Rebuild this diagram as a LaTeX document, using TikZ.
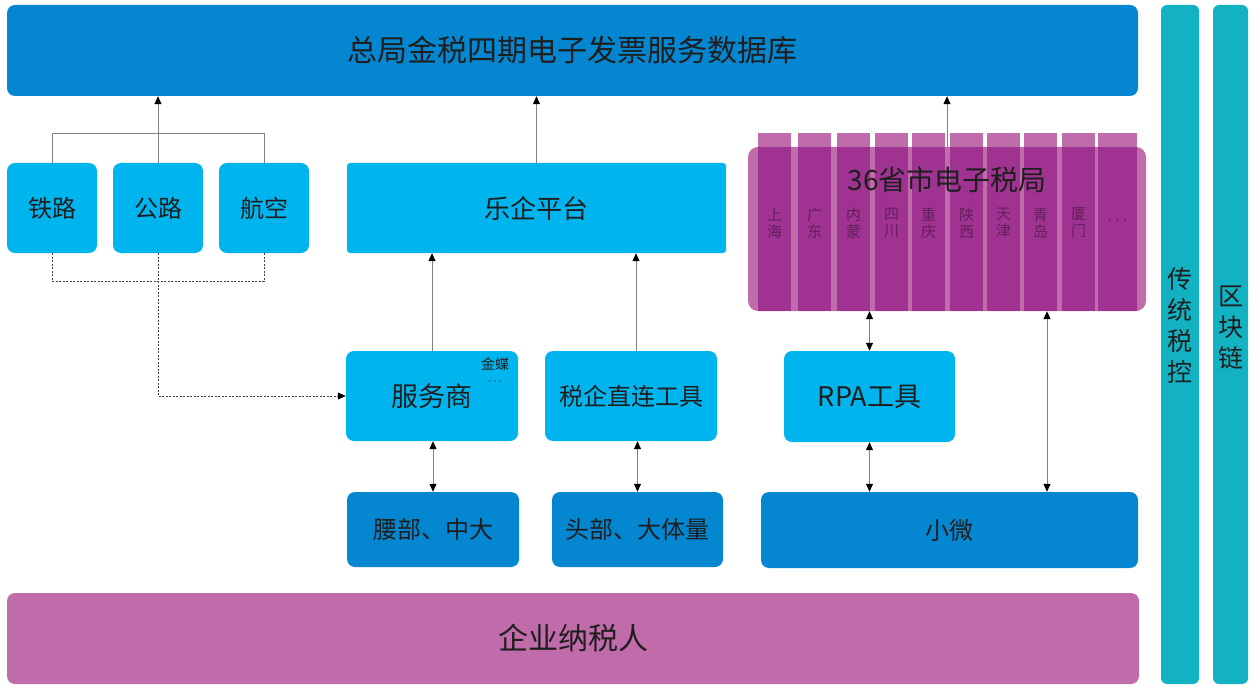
\documentclass[tikz,border=0pt]{standalone}
\usepackage{fontspec}
\setmainfont{Noto Sans CJK SC}
\usetikzlibrary{arrows.meta}
\definecolor{dbblue}{RGB}{4,135,208}
\definecolor{skyblue}{RGB}{0,181,238}
\definecolor{plum}{RGB}{193,108,170}
\definecolor{deepplum}{RGB}{160,51,146}
\definecolor{barteal}{RGB}{18,178,194}
\definecolor{linegray}{RGB}{130,130,130}
\definecolor{inkgray}{RGB}{30,30,30}
\definecolor{provtext}{RGB}{100,30,90}
\begin{document}
\begin{tikzpicture}[x=1pt,y=-1pt,
  box/.style={rectangle,rounded corners=8pt,inner sep=0pt,text=inkgray,
    font=\fontsize{24}{28}\selectfont},
  darkbox/.style={box,fill=dbblue},
  lightbox/.style={box,fill=skyblue},
  tealbar/.style={box,fill=barteal,rounded corners=6pt,minimum width=#1,minimum height=679pt},
  vtext/.style={align=center,text=inkgray,inner sep=0pt,font=\fontsize{25}{31}\selectfont},
  prov/.style={align=center,text=provtext,inner sep=0pt,font=\fontsize{15}{17}\selectfont},
  link/.style={draw=linegray,line width=1pt},
  arr/.style={link,-{Triangle[length=8pt,width=7pt,color=black]}},
  biarr/.style={link,{Triangle[length=8pt,width=7pt,color=black]}-{Triangle[length=8pt,width=7pt,color=black]}},
  dashline/.style={draw=inkgray!85,line width=0.8pt,dash pattern=on 2pt off 1.5pt}]
\useasboundingbox (0,0) rectangle (1260,687);
% Top and bottom bars
\node[darkbox,minimum width=1131pt,minimum height=91pt,font=\fontsize{30}{34}\selectfont]
  (zongju) at (572.5,50.5) {总局金税四期电子发票服务数据库};
\node[box,fill=plum,minimum width=1132pt,minimum height=91pt,font=\fontsize{30}{34}\selectfont]
  (nashui) at (573,638.5) {企业纳税人};
% Side bars
\node[tealbar=38pt] (chuantong) at (1180,344.5) {};
\node[vtext] (chuantonglabel) at (1180,325) {传\\统\\税\\控};
\node[tealbar=35pt] (qukuai) at (1230.5,344.5) {};
\node[vtext] (qukuailabel) at (1230.5,328) {区\\块\\链};
% Transport
\node[lightbox,minimum width=90pt,minimum height=90pt] (tielu) at (52,208) {铁路};
\node[lightbox,minimum width=90pt,minimum height=90pt] (gonglu) at (158,208) {公路};
\node[lightbox,minimum width=90pt,minimum height=90pt] (hangkong) at (264,208) {航空};
% Middle column
\node[lightbox,rounded corners=3pt,minimum width=379pt,minimum height=90pt,font=\fontsize{26}{30}\selectfont]
  (leqi) at (536.5,208) {乐企平台};
\node[lightbox,minimum width=172pt,minimum height=90pt,font=\fontsize{27}{30}\selectfont]
  (fuwu) at (432,396) {服务商};
\node[text=inkgray,inner sep=0pt,font=\fontsize{14}{16}\selectfont] (jindie) at (495,364) {金蝶};
\node[text=inkgray,inner sep=0pt,font=\fontsize{12}{14}\selectfont] (jindiemore) at (495,382) {$\cdots$};
\node[lightbox,minimum width=172pt,minimum height=90pt] (zhilian) at (631,396) {税企直连工具};
\node[darkbox,minimum width=172pt,minimum height=75pt] (yaobu) at (433,529.5) {腰部、中大};
\node[darkbox,minimum width=171pt,minimum height=75pt] (toubu) at (637.5,529.5) {头部、大体量};
% Provinces
\node[box,fill=plum,rounded corners=10pt,minimum width=398pt,minimum height=164pt] (sheng) at (947,229) {};
\foreach \l/\w in {758/33,798/33,837/33,875/33,912/33,950/33,987/33,1024/33,1062/33,1098/39}{
  \fill[plum] (\l,133) rectangle ++(\w,14);
  \fill[deepplum] (\l,147) rectangle ++(\w,164);
}
\foreach \l/\a/\b in {758/上/海,798/广/东,837/内/蒙,875/四/川,912/重/庆,950/陕/西,987/天/津,1024/青/岛,1062/厦/门}
  \node[prov] at (\l+16.5,223) {\a\\\b};
\node[prov,font=\fontsize{18}{20}\selectfont] at (1117.5,221) {$\cdots$};
\node[text=inkgray,inner sep=0pt,font=\fontsize{28}{32}\selectfont] (shengtitle) at (947,180) {36省市电子税局};
\node[lightbox,minimum width=171pt,minimum height=91pt,font=\fontsize{27}{30}\selectfont]
  (rpa) at (869.5,396.5) {RPA工具};
\node[darkbox,minimum width=377pt,minimum height=76pt] (xiaowei) at (949.5,530) {小微};
% Connectors
\draw[link] (tielu.north) -- ++(0,-29) -| (hangkong.north);
\draw[arr] (gonglu.north) -- (gonglu.north |- zongju.south);
\draw[dashline] (tielu.south) -- ++(0,28) -| (hangkong.south);
\draw[dashline,-{Triangle[length=8pt,width=7pt,color=black]}] (gonglu.south) |- (fuwu.west);
\draw[arr] (leqi.north) -- (leqi.north |- zongju.south);
\draw[arr] (sheng.north) -- (sheng.north |- zongju.south);
\draw[arr] (fuwu.north) -- (fuwu.north |- leqi.south);
\draw[arr] ([xshift=5pt]zhilian.north) -- ([xshift=5pt]zhilian.north |- leqi.south);
\draw[biarr] (yaobu.north |- fuwu.south) -- (yaobu.north);
\draw[biarr] (toubu.north |- zhilian.south) -- (toubu.north);
\draw[biarr] (rpa.north |- sheng.south) -- (rpa.north);
\draw[biarr] (rpa.south) -- (rpa.south |- xiaowei.north);
\draw[biarr] ([xshift=100pt]sheng.south) -- ([xshift=100pt]sheng.south |- xiaowei.north);
\end{tikzpicture}
\end{document}
